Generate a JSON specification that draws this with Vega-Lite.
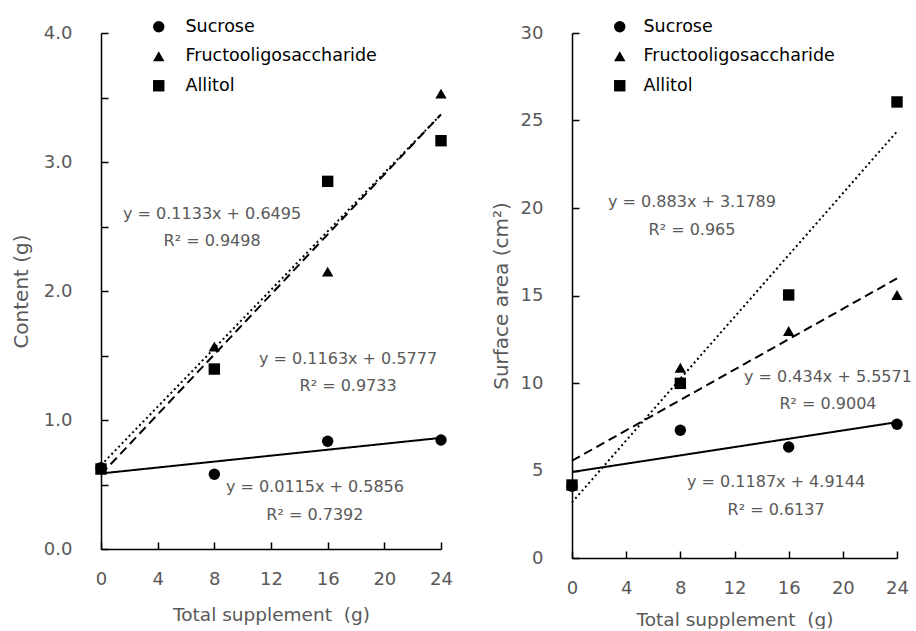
{
  "$schema": "https://vega.github.io/schema/vega-lite/v6.json",
  "background": "white",
  "padding": {"left": 11, "top": 18, "right": 5, "bottom": 0},
  "spacing": 38,
  "resolve": {"scale": {"shape": "independent", "strokeDash": "independent"}, "legend": {"shape": "independent"}},
  "config": {
    "view": {"stroke": null},
    "font": "DejaVu Sans",
    "axis": {
      "grid": false,
      "domainColor": "black",
      "domainWidth": 1.5,
      "tickColor": "black",
      "tickWidth": 1.5,
      "tickSize": -7,
      "labelFlush": false,
      "labelFont": "DejaVu Sans",
      "labelFontSize": 18,
      "labelColor": "#595959",
      "titleFont": "DejaVu Sans",
      "titleFontSize": 18.5,
      "titleFontWeight": "normal",
      "titleColor": "#595959"
    },
    "legend": {
      "padding": 0,
      "labelFont": "DejaVu Sans",
      "labelFontSize": 17.5,
      "labelColor": "black",
      "labelLimit": 0,
      "symbolSize": 130,
      "symbolFillColor": "black",
      "symbolStrokeColor": "black",
      "rowPadding": 10.5
    }
  },
  "datasets": {
    "cPts": [
      {"series": "Sucrose", "x": 0, "y": 0.63},
      {"series": "Sucrose", "x": 8, "y": 0.58},
      {"series": "Sucrose", "x": 16, "y": 0.835},
      {"series": "Sucrose", "x": 24, "y": 0.845},
      {"series": "Fructooligosaccharide", "x": 0, "y": 0.62},
      {"series": "Fructooligosaccharide", "x": 8, "y": 1.57},
      {"series": "Fructooligosaccharide", "x": 16, "y": 2.15},
      {"series": "Fructooligosaccharide", "x": 24, "y": 3.53},
      {"series": "Allitol", "x": 0, "y": 0.62},
      {"series": "Allitol", "x": 8, "y": 1.395},
      {"series": "Allitol", "x": 16, "y": 2.85},
      {"series": "Allitol", "x": 24, "y": 3.165}
    ],
    "cFit": [
      {"series": "Sucrose", "x": 0, "y": 0.5856},
      {"series": "Sucrose", "x": 24, "y": 0.8616},
      {"series": "Fructooligosaccharide", "x": 0, "y": 0.5777},
      {"series": "Fructooligosaccharide", "x": 24, "y": 3.3689},
      {"series": "Allitol", "x": 0, "y": 0.6495},
      {"series": "Allitol", "x": 24, "y": 3.3687}
    ],
    "cEq": [
      {"x": 7.84, "y": 2.597, "label": "y = 0.1133x + 0.6495"},
      {"x": 7.84, "y": 2.388, "label": "R² = 0.9498"},
      {"x": 17.44, "y": 1.473, "label": "y = 0.1163x + 0.5777"},
      {"x": 17.44, "y": 1.264, "label": "R² = 0.9733"},
      {"x": 15.1, "y": 0.481, "label": "y = 0.0115x + 0.5856"},
      {"x": 15.1, "y": 0.264, "label": "R² = 0.7392"}
    ],
    "aPts": [
      {"series": "Sucrose", "x": 0, "y": 4.1},
      {"series": "Sucrose", "x": 8, "y": 7.3},
      {"series": "Sucrose", "x": 16, "y": 6.34},
      {"series": "Sucrose", "x": 24, "y": 7.64},
      {"series": "Fructooligosaccharide", "x": 0, "y": 4.17},
      {"series": "Fructooligosaccharide", "x": 8, "y": 10.87},
      {"series": "Fructooligosaccharide", "x": 16, "y": 12.97},
      {"series": "Fructooligosaccharide", "x": 24, "y": 15.03},
      {"series": "Allitol", "x": 0, "y": 4.17},
      {"series": "Allitol", "x": 8, "y": 9.98},
      {"series": "Allitol", "x": 16, "y": 15.03},
      {"series": "Allitol", "x": 24, "y": 26.06}
    ],
    "aFit": [
      {"series": "Sucrose", "x": 0, "y": 4.9144},
      {"series": "Sucrose", "x": 24, "y": 7.7632},
      {"series": "Fructooligosaccharide", "x": 0, "y": 5.5571},
      {"series": "Fructooligosaccharide", "x": 24, "y": 15.9731},
      {"series": "Allitol", "x": 0, "y": 3.1789},
      {"series": "Allitol", "x": 24, "y": 24.3709}
    ],
    "aEq": [
      {"x": 8.86, "y": 20.34, "label": "y = 0.883x + 3.1789"},
      {"x": 8.86, "y": 18.74, "label": "R² = 0.965"},
      {"x": 18.9, "y": 10.34, "label": "y = 0.434x + 5.5571"},
      {"x": 18.9, "y": 8.8, "label": "R² = 0.9004"},
      {"x": 15.07, "y": 4.34, "label": "y = 0.1187x + 4.9144"},
      {"x": 15.07, "y": 2.74, "label": "R² = 0.6137"}
    ]
  },
  "hconcat": [
    {
      "width": 340,
      "height": 516,
      "layer": [
        {
          "data": {"name": "cFit"},
          "mark": {"type": "line", "color": "black", "strokeWidth": 2},
          "encoding": {
            "x": {"field": "x", "type": "quantitative", "scale": {"domain": [0, 24]},
                  "axis": {"values": [0, 4, 8, 12, 16, 20, 24], "title": "Total supplement\u00a0 (g)", "labelPadding": 28, "titlePadding": 17}},
            "y": {"field": "y", "type": "quantitative", "scale": {"domain": [0, 4]},
                  "axis": {"values": [0, 0.5, 1, 1.5, 2, 2.5, 3, 3.5, 4], "labelExpr": "datum.value % 1 === 0 ? format(datum.value, '.1f') : ''", "title": "Content (g)", "titleFontSize": 20, "labelPadding": 36, "titlePadding": 12}},
            "detail": {"field": "series"},
            "strokeDash": {"field": "series", "type": "nominal", "legend": null,
                           "scale": {"range": [[2, 3], [9, 5], [1, 0]]}}
          }
        },
        {
          "data": {"name": "cPts"},
          "mark": {"type": "point", "filled": true, "color": "black", "opacity": 1, "size": 130},
          "encoding": {
            "x": {"field": "x", "type": "quantitative"},
            "y": {"field": "y", "type": "quantitative"},
            "shape": {"field": "series", "type": "nominal",
                      "scale": {"domain": ["Sucrose", "Fructooligosaccharide", "Allitol"], "range": ["circle", "triangle-up", "square"]},
                      "legend": {"title": null, "orient": "none", "direction": "vertical", "legendX": 49, "legendY": -15, "labelOffset": 18}}
          }
        },
        {
          "data": {"name": "cEq"},
          "mark": {"type": "text", "fontSize": 16, "color": "#595959", "font": "DejaVu Sans", "align": "center", "baseline": "middle"},
          "encoding": {
            "x": {"field": "x", "type": "quantitative"},
            "y": {"field": "y", "type": "quantitative"},
            "text": {"field": "label"}
          }
        }
      ]
    },
    {
      "width": 325,
      "height": 525,
      "layer": [
        {
          "data": {"name": "aFit"},
          "mark": {"type": "line", "color": "black", "strokeWidth": 2},
          "encoding": {
            "x": {"field": "x", "type": "quantitative", "scale": {"domain": [0, 24]},
                  "axis": {"values": [0, 4, 8, 12, 16, 20, 24], "title": "Total supplement\u00a0 (g)", "labelPadding": 28, "titlePadding": 13}},
            "y": {"field": "y", "type": "quantitative", "scale": {"domain": [0, 30]},
                  "axis": {"values": [0, 5, 10, 15, 20, 25, 30], "format": "d", "title": "Surface area (cm²)", "titleFontSize": 20, "labelPadding": 36, "titlePadding": 9}},
            "detail": {"field": "series"},
            "strokeDash": {"field": "series", "type": "nominal", "legend": null,
                           "scale": {"range": [[2, 3], [9, 5], [1, 0]]}}
          }
        },
        {
          "data": {"name": "aPts"},
          "mark": {"type": "point", "filled": true, "color": "black", "opacity": 1, "size": 130},
          "encoding": {
            "x": {"field": "x", "type": "quantitative"},
            "y": {"field": "y", "type": "quantitative"},
            "shape": {"field": "series", "type": "nominal",
                      "scale": {"domain": ["Sucrose", "Fructooligosaccharide", "Allitol"], "range": ["circle", "triangle-up", "square"]},
                      "legend": {"title": null, "orient": "none", "direction": "vertical", "legendX": 39, "legendY": -15, "labelOffset": 15}}
          }
        },
        {
          "data": {"name": "aEq"},
          "mark": {"type": "text", "fontSize": 16, "color": "#595959", "font": "DejaVu Sans", "align": "center", "baseline": "middle"},
          "encoding": {
            "x": {"field": "x", "type": "quantitative"},
            "y": {"field": "y", "type": "quantitative"},
            "text": {"field": "label"}
          }
        }
      ]
    }
  ]
}
